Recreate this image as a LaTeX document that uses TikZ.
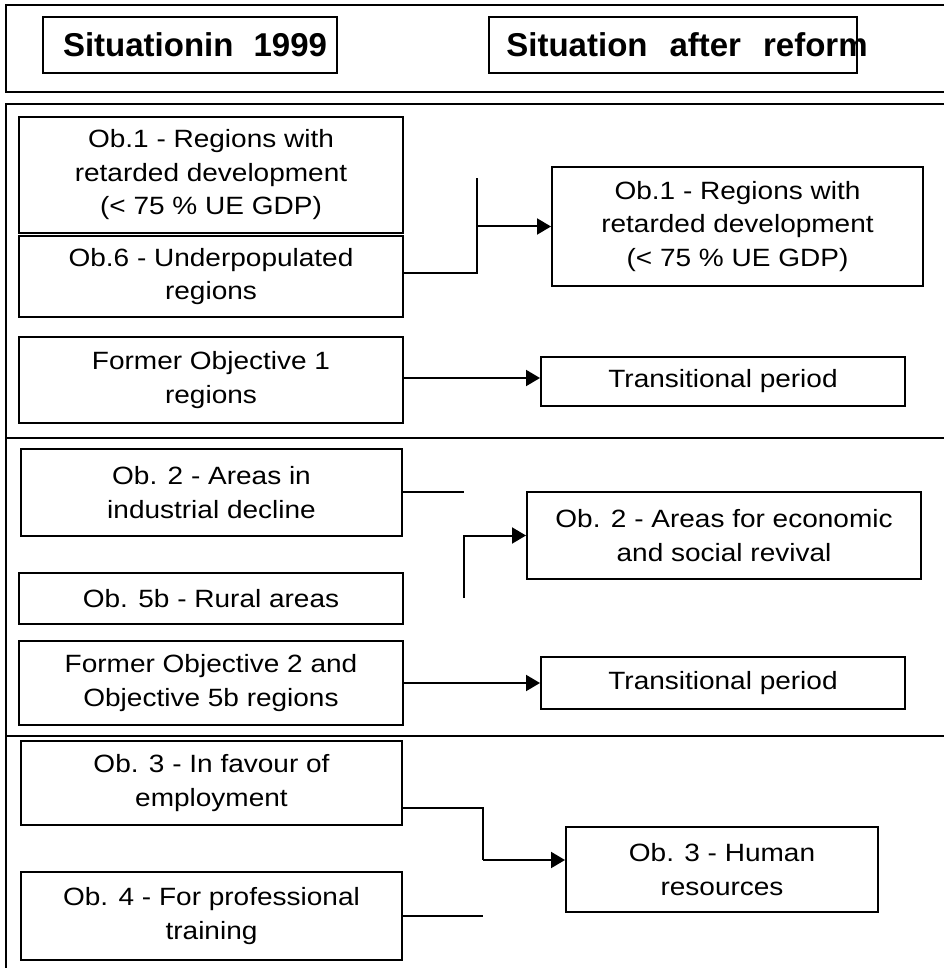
\documentclass[tikz,border=0pt]{standalone}
\usepackage{fontspec}
\setmainfont{Liberation Sans}
\newfontfamily\bodyfont[FakeStretch=1.12]{Liberation Sans}
\usetikzlibrary{arrows.meta}
\begin{document}
\begin{tikzpicture}[x=1pt,y=-1pt,
  box/.style={draw, line width=2pt, inner sep=0pt, align=center,
    font=\bodyfont\fontsize{25}{33.5}\selectfont},
  hbox/.style={draw, line width=2pt, inner sep=0pt},
  htext/.style={font=\bfseries\fontsize{33}{40}\selectfont, inner sep=0pt},
  framel/.style={line width=2.3pt},
  conn/.style={line width=2pt},
  arr/.style={conn, -{Triangle[length=14pt,width=16pt]}}]
\fill[white] (0,0) rectangle (944,968);
\useasboundingbox (0,0) rectangle (944,968);

% header frame
\draw[framel] (944,5) -- (6,5) -- (6,92) -- (944,92);
\node[hbox, minimum width=294pt, minimum height=56pt] (h1) at (190,45) {};
\node[htext] (h1t) at (195,45) {Situationin\hspace{20pt}1999};
\node[hbox, minimum width=368pt, minimum height=56pt] (h2) at (673,45) {};
\node[htext] (h2t) at (687,45) {Situation\hspace{22pt}after\hspace{22pt}reform};

% main frame and dividers
\draw[framel] (944,104) -- (6,104) -- (6,968);
\draw[framel] (6,438) -- (944,438);
\draw[framel] (6,736) -- (944,736);

% left column
\node[box, minimum width=384pt, minimum height=116pt] (ob1) at (211,175) {Ob.1 - Regions with\\retarded development\\(< 75 \% UE GDP)};
\node[box, minimum width=384pt, minimum height=81pt] (ob6) at (211,276.5) {Ob.6 - Underpopulated\\regions};
\node[box, minimum width=384pt, minimum height=86pt] (fo1) at (211,380) {Former Objective 1\\regions};
\node[box, minimum width=381pt, minimum height=87pt] (ob2) at (211.5,492.5) {Ob. 2 - Areas in\\industrial decline};
\node[box, minimum width=384pt, minimum height=51pt] (ob5) at (211,598.5) {Ob. 5b - Rural areas};
\node[box, minimum width=384pt, minimum height=84pt] (fo2) at (211,683) {Former Objective 2 and\\Objective 5b regions};
\node[box, minimum width=381pt, minimum height=84pt] (ob3) at (211.5,783) {Ob. 3 - In favour of\\employment};
\node[box, minimum width=381pt, minimum height=88pt] (ob4) at (211.5,916) {Ob. 4 - For professional\\training};

% right column
\node[box, minimum width=371pt, minimum height=119pt] (nob1) at (737.5,226.5) {Ob.1 - Regions with\\retarded development\\(< 75 \% UE GDP)};
\node[box, minimum width=364pt, minimum height=49pt] (tr1) at (723,381.5) {Transitional period};
\node[box, minimum width=394pt, minimum height=87pt] (nob2) at (724,535.5) {Ob. 2 - Areas for economic\\and social revival};
\node[box, minimum width=364pt, minimum height=52pt] (tr2) at (723,683) {Transitional period};
\node[box, minimum width=312pt, minimum height=85pt] (nob3) at (722,869.5) {Ob. 3 - Human\\resources};

% connectors section 1
\coordinate (j1t) at (477,178);
\coordinate (j1b) at (477,273);
\draw[conn] (ob6.east |- j1b) -- (j1b) -- (j1t);
\draw[arr] (j1b |- nob1.west) -- (nob1.west);
\draw[arr] (fo1.east |- 0,378) -- (tr1.west |- 0,378);

% connectors section 2
\coordinate (j2a) at (464,492);
\coordinate (j2b) at (464,598);
\draw[conn] (ob2.east |- j2a) -- (j2a);
\draw[arr] (j2b) |- (nob2.west);
\draw[arr] (fo2.east) -- (tr2.west);

% connectors section 3
\coordinate (j3a) at (483,808);
\coordinate (j3b) at (483,860);
\coordinate (j3c) at (483,916);
\draw[conn] (ob3.east |- j3a) -- (j3a) -- (j3b);
\draw[arr] (j3b) -- (nob3.west |- j3b);
\draw[conn] (ob4.east |- j3c) -- (j3c);
\end{tikzpicture}
\end{document}
